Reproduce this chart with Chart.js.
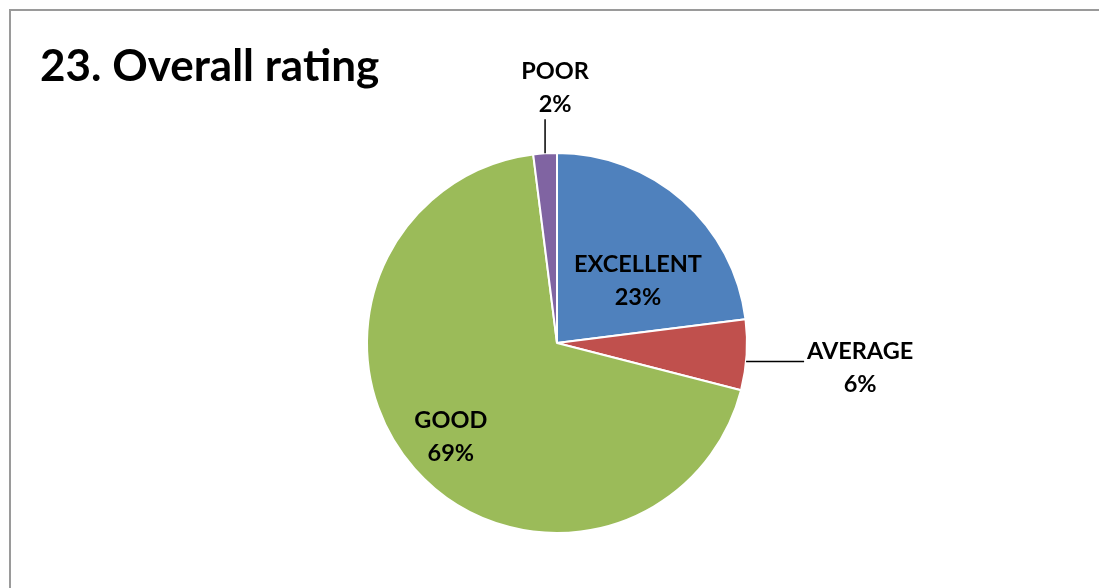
<!DOCTYPE html>
<html>
<head>
<meta charset="utf-8">
<script src="https://cdn.jsdelivr.net/npm/chart.js@4"></script>
<style>
  html, body { margin: 0; padding: 0; background: #fff; overflow: hidden; }
  #frame { position: absolute; left: 9px; top: 9px; width: 1200px; height: 700px; border: 2px solid #9a9a9a; }
  #title { position: absolute; left: 40px; top: 38px; font: bold 44px Lato, "Open Sans", sans-serif; color: #000; white-space: nowrap; }
  #wrap { position: absolute; left: 0; top: 0; width: 1099px; height: 588px; }
</style>
</head>
<body>
<div id="frame"></div>
<div id="wrap"><canvas id="myChart" width="1099" height="588"></canvas></div>
<div id="title">23. Overall rating</div>
<script>
const labels1 = ["EXCELLENT", "AVERAGE", "GOOD", "POOR"];
const data1 = [23, 6, 69, 2];
const colors1 = ["#4F81BD", "#C0504D", "#9BBB59", "#8064A2"];

// where each label goes: inside at a fraction of radius, or outside with a leader
const labelPlace = [
  { mode: "in", r: 0.54, angle: -37.9 },
  { mode: "right", len: 58, gap: 56 },
  { mode: "in", r: 0.745 },
  { mode: "up", len: 34, gap: 16 }
];

const pieLabels = {
  id: "pieLabels",
  afterDatasetsDraw(chart) {
    const ctx = chart.ctx;
    const meta = chart.getDatasetMeta(0);
    ctx.save();
    ctx.font = "bold 23.5px Lato, 'Open Sans', sans-serif";
    ctx.fillStyle = "#000";
    ctx.strokeStyle = "#000";
    ctx.lineWidth = 1.5;
    ctx.textAlign = "center";
    ctx.textBaseline = "middle";
    meta.data.forEach((arc, i) => {
      const p = arc.getProps(["x", "y", "startAngle", "endAngle", "outerRadius"], true);
      const mid = (p.startAngle + p.endAngle) / 2;
      const place = labelPlace[i];
      const txt = [labels1[i], data1[i] + "%"];
      let tx, ty;
      if (place.mode == "in") {
        const a = place.angle !== undefined ? place.angle * Math.PI / 180 : mid;
        tx = p.x + Math.cos(a) * p.outerRadius * place.r;
        ty = p.y + Math.sin(a) * p.outerRadius * place.r;
      } else if (place.mode == "right") {
        const a = mid + 2 * Math.PI / 180;
        const sx = p.x + Math.cos(a) * p.outerRadius;
        const sy = p.y + Math.sin(a) * p.outerRadius;
        ctx.beginPath();
        ctx.moveTo(sx, sy);
        ctx.lineTo(sx + place.len, sy);
        ctx.stroke();
        tx = sx + place.len + place.gap;
        ty = sy + 6;
      } else {
        const a = mid;
        const sx = p.x + Math.cos(a) * p.outerRadius;
        const sy = p.y + Math.sin(a) * p.outerRadius;
        ctx.beginPath();
        ctx.moveTo(sx, sy);
        ctx.lineTo(sx, sy - place.len);
        ctx.stroke();
        tx = sx + 10;
        ty = sy - place.len - place.gap - 16;
      }
      ctx.fillText(txt[0], tx, ty - 16);
      ctx.fillText(txt[1], tx, ty + 17);
    });
    ctx.restore();
  }
};

let myChart1 = document.getElementById("myChart").getContext("2d");

let chart1 = new Chart(myChart1, {
  type: "pie",
  data: {
    labels: labels1,
    datasets: [{
      data: data1,
      backgroundColor: colors1,
      borderColor: "#ffffff",
      borderWidth: 2
    }]
  },
  options: {
    responsive: false,
    animation: false,
    layout: {
      padding: { top: 152, bottom: 54, left: 366, right: 351 }
    },
    plugins: {
      legend: { display: false },
      tooltip: { enabled: false },
      title: { display: false }
    }
  },
  plugins: [pieLabels]
});
</script>
</body>
</html>
